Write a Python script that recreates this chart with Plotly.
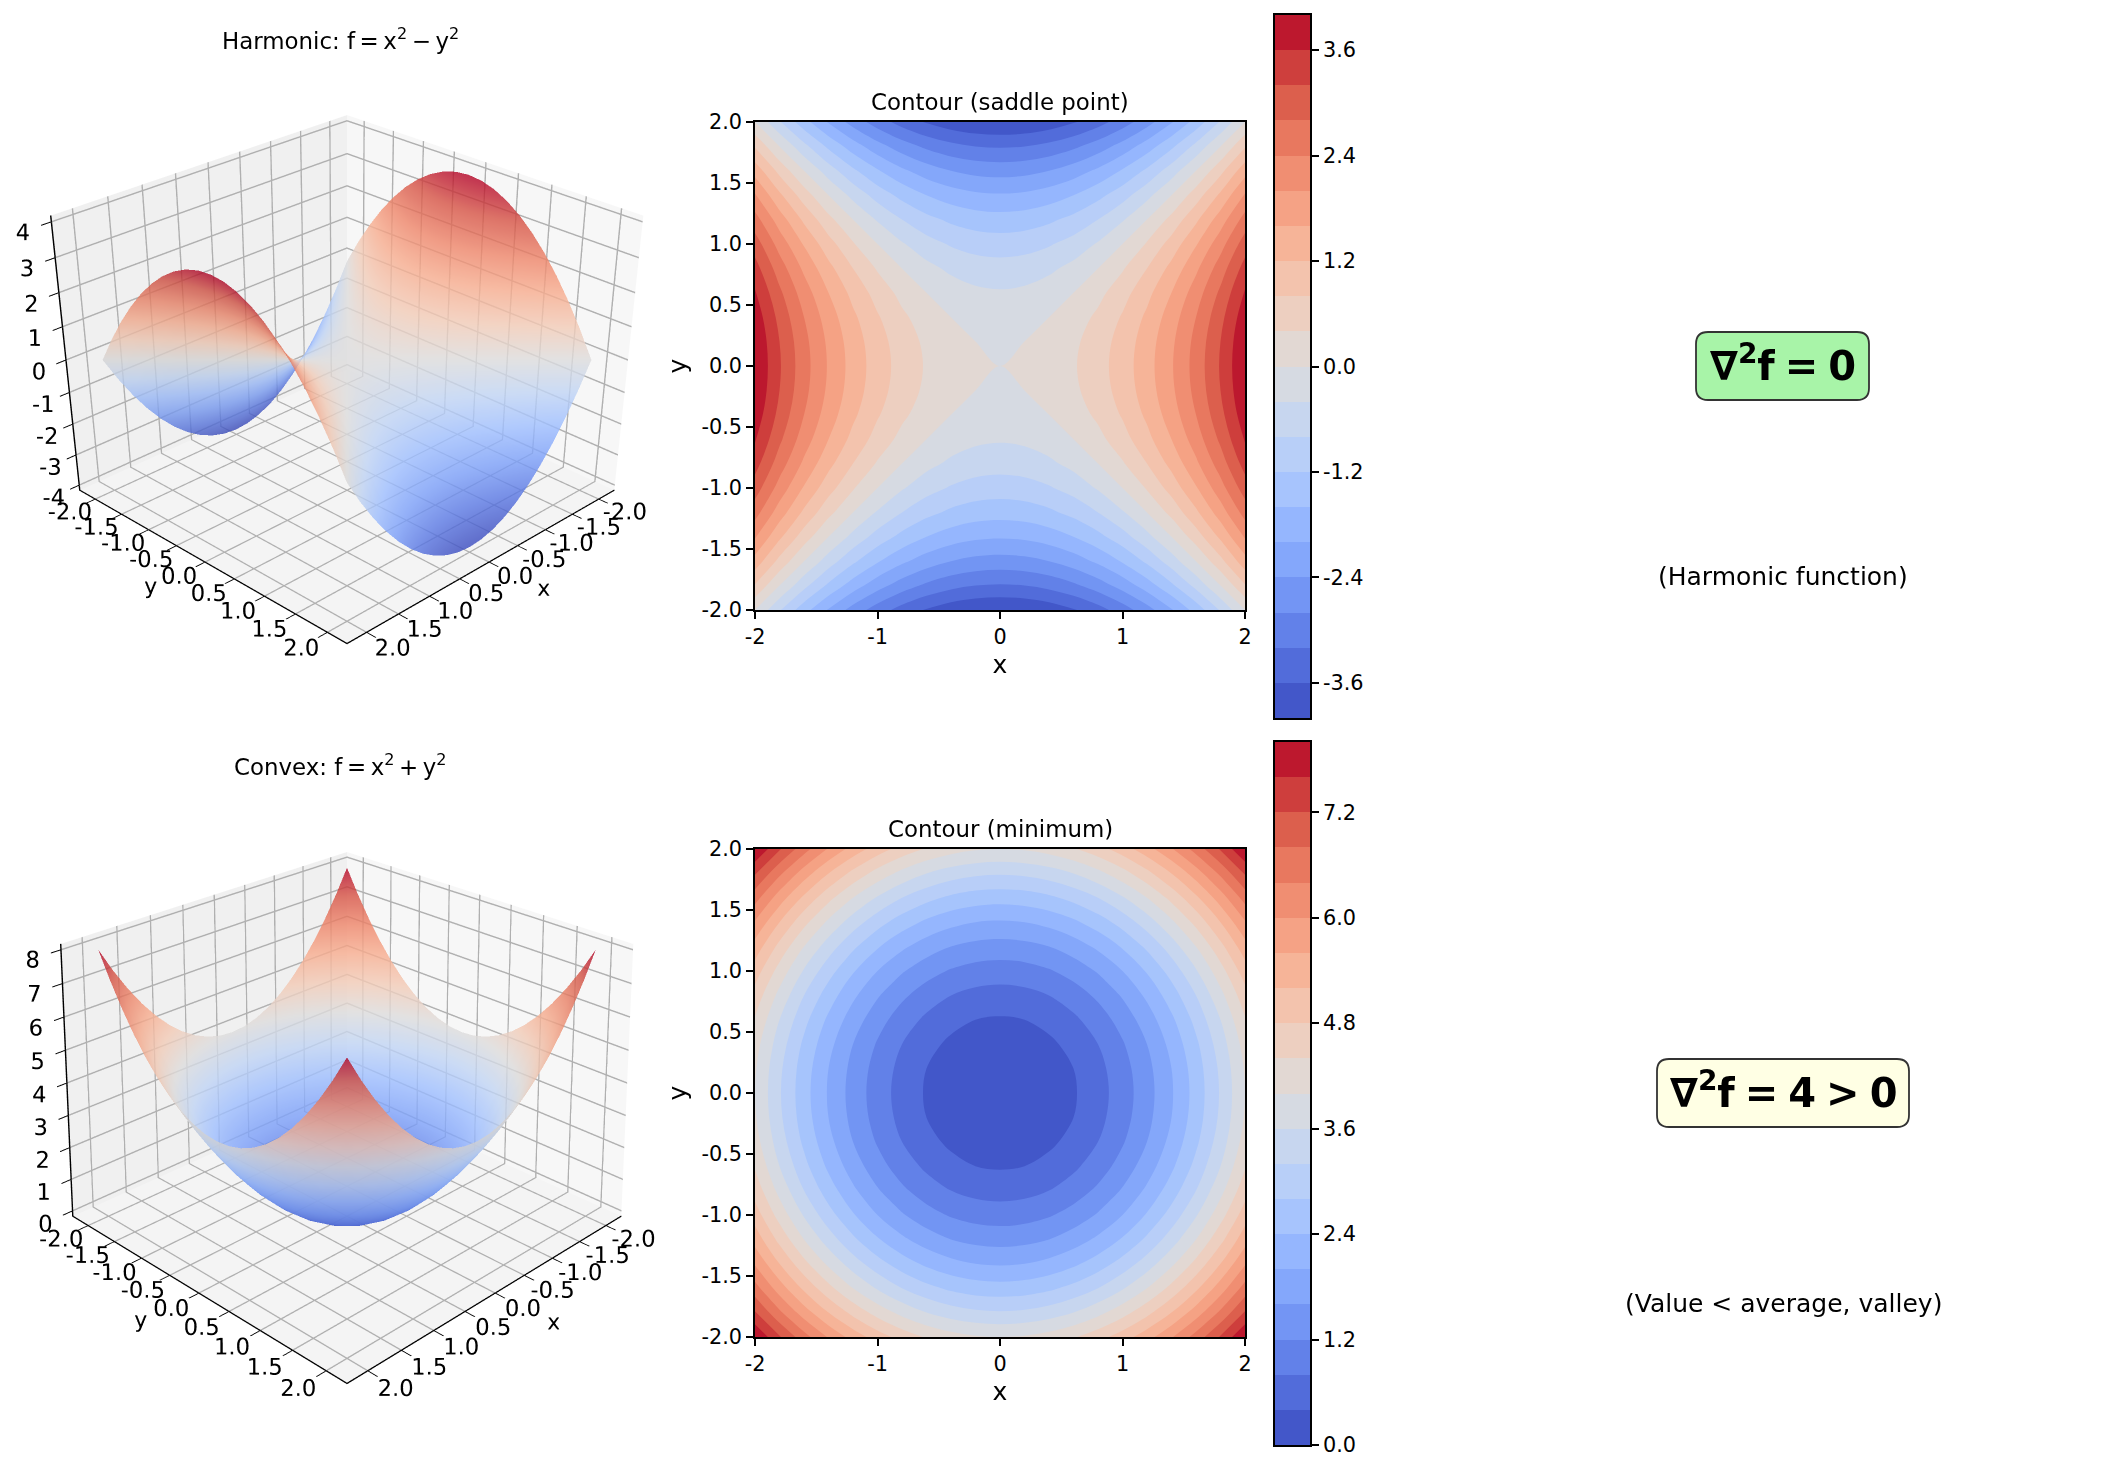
import math
import plotly.graph_objects as go
from plotly.colors import sample_colorscale

W = 2103
H = 1472

# grid
x = [-2.0, -1.8, -1.6, -1.4, -1.2, -1.0, -0.8, -0.6, -0.4, -0.2, 0.0, 0.2, 0.4, 0.6, 0.8, 1.0, 1.2, 1.4, 1.6, 1.8, 2.0]
y = [-2.0, -1.8, -1.6, -1.4, -1.2, -1.0, -0.8, -0.6, -0.4, -0.2, 0.0, 0.2, 0.4, 0.6, 0.8, 1.0, 1.2, 1.4, 1.6, 1.8, 2.0]

harmonic = [
    [0.00, -0.76, -1.44, -2.04, -2.56, -3.00, -3.36, -3.64, -3.84, -3.96, -4.00, -3.96, -3.84, -3.64, -3.36, -3.00, -2.56, -2.04, -1.44, -0.76, 0.00],
    [0.76, 0.00, -0.68, -1.28, -1.80, -2.24, -2.60, -2.88, -3.08, -3.20, -3.24, -3.20, -3.08, -2.88, -2.60, -2.24, -1.80, -1.28, -0.68, 0.00, 0.76],
    [1.44, 0.68, 0.00, -0.60, -1.12, -1.56, -1.92, -2.20, -2.40, -2.52, -2.56, -2.52, -2.40, -2.20, -1.92, -1.56, -1.12, -0.60, 0.00, 0.68, 1.44],
    [2.04, 1.28, 0.60, 0.00, -0.52, -0.96, -1.32, -1.60, -1.80, -1.92, -1.96, -1.92, -1.80, -1.60, -1.32, -0.96, -0.52, 0.00, 0.60, 1.28, 2.04],
    [2.56, 1.80, 1.12, 0.52, 0.00, -0.44, -0.80, -1.08, -1.28, -1.40, -1.44, -1.40, -1.28, -1.08, -0.80, -0.44, 0.00, 0.52, 1.12, 1.80, 2.56],
    [3.00, 2.24, 1.56, 0.96, 0.44, 0.00, -0.36, -0.64, -0.84, -0.96, -1.00, -0.96, -0.84, -0.64, -0.36, 0.00, 0.44, 0.96, 1.56, 2.24, 3.00],
    [3.36, 2.60, 1.92, 1.32, 0.80, 0.36, 0.00, -0.28, -0.48, -0.60, -0.64, -0.60, -0.48, -0.28, 0.00, 0.36, 0.80, 1.32, 1.92, 2.60, 3.36],
    [3.64, 2.88, 2.20, 1.60, 1.08, 0.64, 0.28, 0.00, -0.20, -0.32, -0.36, -0.32, -0.20, 0.00, 0.28, 0.64, 1.08, 1.60, 2.20, 2.88, 3.64],
    [3.84, 3.08, 2.40, 1.80, 1.28, 0.84, 0.48, 0.20, 0.00, -0.12, -0.16, -0.12, 0.00, 0.20, 0.48, 0.84, 1.28, 1.80, 2.40, 3.08, 3.84],
    [3.96, 3.20, 2.52, 1.92, 1.40, 0.96, 0.60, 0.32, 0.12, 0.00, -0.04, 0.00, 0.12, 0.32, 0.60, 0.96, 1.40, 1.92, 2.52, 3.20, 3.96],
    [4.00, 3.24, 2.56, 1.96, 1.44, 1.00, 0.64, 0.36, 0.16, 0.04, 0.00, 0.04, 0.16, 0.36, 0.64, 1.00, 1.44, 1.96, 2.56, 3.24, 4.00],
    [3.96, 3.20, 2.52, 1.92, 1.40, 0.96, 0.60, 0.32, 0.12, 0.00, -0.04, 0.00, 0.12, 0.32, 0.60, 0.96, 1.40, 1.92, 2.52, 3.20, 3.96],
    [3.84, 3.08, 2.40, 1.80, 1.28, 0.84, 0.48, 0.20, 0.00, -0.12, -0.16, -0.12, 0.00, 0.20, 0.48, 0.84, 1.28, 1.80, 2.40, 3.08, 3.84],
    [3.64, 2.88, 2.20, 1.60, 1.08, 0.64, 0.28, 0.00, -0.20, -0.32, -0.36, -0.32, -0.20, 0.00, 0.28, 0.64, 1.08, 1.60, 2.20, 2.88, 3.64],
    [3.36, 2.60, 1.92, 1.32, 0.80, 0.36, 0.00, -0.28, -0.48, -0.60, -0.64, -0.60, -0.48, -0.28, 0.00, 0.36, 0.80, 1.32, 1.92, 2.60, 3.36],
    [3.00, 2.24, 1.56, 0.96, 0.44, 0.00, -0.36, -0.64, -0.84, -0.96, -1.00, -0.96, -0.84, -0.64, -0.36, 0.00, 0.44, 0.96, 1.56, 2.24, 3.00],
    [2.56, 1.80, 1.12, 0.52, 0.00, -0.44, -0.80, -1.08, -1.28, -1.40, -1.44, -1.40, -1.28, -1.08, -0.80, -0.44, 0.00, 0.52, 1.12, 1.80, 2.56],
    [2.04, 1.28, 0.60, 0.00, -0.52, -0.96, -1.32, -1.60, -1.80, -1.92, -1.96, -1.92, -1.80, -1.60, -1.32, -0.96, -0.52, 0.00, 0.60, 1.28, 2.04],
    [1.44, 0.68, 0.00, -0.60, -1.12, -1.56, -1.92, -2.20, -2.40, -2.52, -2.56, -2.52, -2.40, -2.20, -1.92, -1.56, -1.12, -0.60, 0.00, 0.68, 1.44],
    [0.76, 0.00, -0.68, -1.28, -1.80, -2.24, -2.60, -2.88, -3.08, -3.20, -3.24, -3.20, -3.08, -2.88, -2.60, -2.24, -1.80, -1.28, -0.68, 0.00, 0.76],
    [0.00, -0.76, -1.44, -2.04, -2.56, -3.00, -3.36, -3.64, -3.84, -3.96, -4.00, -3.96, -3.84, -3.64, -3.36, -3.00, -2.56, -2.04, -1.44, -0.76, 0.00],
]

convex = [
    [8.00, 7.24, 6.56, 5.96, 5.44, 5.00, 4.64, 4.36, 4.16, 4.04, 4.00, 4.04, 4.16, 4.36, 4.64, 5.00, 5.44, 5.96, 6.56, 7.24, 8.00],
    [7.24, 6.48, 5.80, 5.20, 4.68, 4.24, 3.88, 3.60, 3.40, 3.28, 3.24, 3.28, 3.40, 3.60, 3.88, 4.24, 4.68, 5.20, 5.80, 6.48, 7.24],
    [6.56, 5.80, 5.12, 4.52, 4.00, 3.56, 3.20, 2.92, 2.72, 2.60, 2.56, 2.60, 2.72, 2.92, 3.20, 3.56, 4.00, 4.52, 5.12, 5.80, 6.56],
    [5.96, 5.20, 4.52, 3.92, 3.40, 2.96, 2.60, 2.32, 2.12, 2.00, 1.96, 2.00, 2.12, 2.32, 2.60, 2.96, 3.40, 3.92, 4.52, 5.20, 5.96],
    [5.44, 4.68, 4.00, 3.40, 2.88, 2.44, 2.08, 1.80, 1.60, 1.48, 1.44, 1.48, 1.60, 1.80, 2.08, 2.44, 2.88, 3.40, 4.00, 4.68, 5.44],
    [5.00, 4.24, 3.56, 2.96, 2.44, 2.00, 1.64, 1.36, 1.16, 1.04, 1.00, 1.04, 1.16, 1.36, 1.64, 2.00, 2.44, 2.96, 3.56, 4.24, 5.00],
    [4.64, 3.88, 3.20, 2.60, 2.08, 1.64, 1.28, 1.00, 0.80, 0.68, 0.64, 0.68, 0.80, 1.00, 1.28, 1.64, 2.08, 2.60, 3.20, 3.88, 4.64],
    [4.36, 3.60, 2.92, 2.32, 1.80, 1.36, 1.00, 0.72, 0.52, 0.40, 0.36, 0.40, 0.52, 0.72, 1.00, 1.36, 1.80, 2.32, 2.92, 3.60, 4.36],
    [4.16, 3.40, 2.72, 2.12, 1.60, 1.16, 0.80, 0.52, 0.32, 0.20, 0.16, 0.20, 0.32, 0.52, 0.80, 1.16, 1.60, 2.12, 2.72, 3.40, 4.16],
    [4.04, 3.28, 2.60, 2.00, 1.48, 1.04, 0.68, 0.40, 0.20, 0.08, 0.04, 0.08, 0.20, 0.40, 0.68, 1.04, 1.48, 2.00, 2.60, 3.28, 4.04],
    [4.00, 3.24, 2.56, 1.96, 1.44, 1.00, 0.64, 0.36, 0.16, 0.04, 0.00, 0.04, 0.16, 0.36, 0.64, 1.00, 1.44, 1.96, 2.56, 3.24, 4.00],
    [4.04, 3.28, 2.60, 2.00, 1.48, 1.04, 0.68, 0.40, 0.20, 0.08, 0.04, 0.08, 0.20, 0.40, 0.68, 1.04, 1.48, 2.00, 2.60, 3.28, 4.04],
    [4.16, 3.40, 2.72, 2.12, 1.60, 1.16, 0.80, 0.52, 0.32, 0.20, 0.16, 0.20, 0.32, 0.52, 0.80, 1.16, 1.60, 2.12, 2.72, 3.40, 4.16],
    [4.36, 3.60, 2.92, 2.32, 1.80, 1.36, 1.00, 0.72, 0.52, 0.40, 0.36, 0.40, 0.52, 0.72, 1.00, 1.36, 1.80, 2.32, 2.92, 3.60, 4.36],
    [4.64, 3.88, 3.20, 2.60, 2.08, 1.64, 1.28, 1.00, 0.80, 0.68, 0.64, 0.68, 0.80, 1.00, 1.28, 1.64, 2.08, 2.60, 3.20, 3.88, 4.64],
    [5.00, 4.24, 3.56, 2.96, 2.44, 2.00, 1.64, 1.36, 1.16, 1.04, 1.00, 1.04, 1.16, 1.36, 1.64, 2.00, 2.44, 2.96, 3.56, 4.24, 5.00],
    [5.44, 4.68, 4.00, 3.40, 2.88, 2.44, 2.08, 1.80, 1.60, 1.48, 1.44, 1.48, 1.60, 1.80, 2.08, 2.44, 2.88, 3.40, 4.00, 4.68, 5.44],
    [5.96, 5.20, 4.52, 3.92, 3.40, 2.96, 2.60, 2.32, 2.12, 2.00, 1.96, 2.00, 2.12, 2.32, 2.60, 2.96, 3.40, 3.92, 4.52, 5.20, 5.96],
    [6.56, 5.80, 5.12, 4.52, 4.00, 3.56, 3.20, 2.92, 2.72, 2.60, 2.56, 2.60, 2.72, 2.92, 3.20, 3.56, 4.00, 4.52, 5.12, 5.80, 6.56],
    [7.24, 6.48, 5.80, 5.20, 4.68, 4.24, 3.88, 3.60, 3.40, 3.28, 3.24, 3.28, 3.40, 3.60, 3.88, 4.24, 4.68, 5.20, 5.80, 6.48, 7.24],
    [8.00, 7.24, 6.56, 5.96, 5.44, 5.00, 4.64, 4.36, 4.16, 4.04, 4.00, 4.04, 4.16, 4.36, 4.64, 5.00, 5.44, 5.96, 6.56, 7.24, 8.00],
]

# middle level of each colour band in the colorbars
bands_top = [-3.8, -3.4, -3.0, -2.6, -2.2, -1.8, -1.4, -1.0, -0.6, -0.2, 0.2, 0.6, 1.0, 1.4, 1.8, 2.2, 2.6, 3.0, 3.4, 3.8]
bands_bot = [0.2, 0.6, 1.0, 1.4, 1.8, 2.2, 2.6, 3.0, 3.4, 3.8, 4.2, 4.6, 5.0, 5.4, 5.8, 6.2, 6.6, 7.0, 7.4, 7.8]

# tick labels (plain hyphens like the original)
ticks_3d = [-2.0, -1.5, -1.0, -0.5, 0.0, 0.5, 1.0, 1.5, 2.0]
ticks_3d_text = ["-2.0", "-1.5", "-1.0", "-0.5", "0.0", "0.5", "1.0", "1.5", "2.0"]
ticks_x = [-2, -1, 0, 1, 2]
ticks_x_text = ["-2", "-1", "0", "1", "2"]
z_ticks_top = [-4, -3, -2, -1, 0, 1, 2, 3, 4]
z_ticks_top_text = ["-4", "-3", "-2", "-1", "0", "1", "2", "3", "4"]
z_ticks_bot = [0, 1, 2, 3, 4, 5, 6, 7, 8]
z_ticks_bot_text = ["0", "1", "2", "3", "4", "5", "6", "7", "8"]
cb_ticks_top = [-3.6, -2.4, -1.2, 0.0, 1.2, 2.4, 3.6]
cb_ticks_top_text = ["-3.6", "-2.4", "-1.2", "0.0", "1.2", "2.4", "3.6"]
cb_ticks_bot = [0.0, 1.2, 2.4, 3.6, 4.8, 6.0, 7.2]
cb_ticks_bot_text = ["0.0", "1.2", "2.4", "3.6", "4.8", "6.0", "7.2"]

coolwarm = ["#3b4cc0", "#5977e3", "#7b9ff9", "#9ebeff", "#c0d4f5", "#dddcdc",
            "#f2cbb7", "#f7ac8e", "#ee8468", "#d65244", "#b40426"]
cw_scale = [[i / 10, c] for i, c in enumerate(coolwarm)]

FONT = "DejaVu Sans"
TICK = 20.8
TICK3D = 16.5
TITLE3D = 22
LABEL = 25
TITLE = 22.9

# eye distance, gives the same weak perspective as the original
EYE = 4.57
ELEV = math.radians(26)


def px(v):
    return v / W


def py(v):
    return 1 - v / H


def band_scale(n=20):
    stops = [[0, sample_colorscale(cw_scale, [0.5 / n])[0]]]
    for i in range(n):
        stops.append([(i + 1) / (n + 1), sample_colorscale(cw_scale, [(i + 0.5) / n])[0]])
    stops.append([1, sample_colorscale(cw_scale, [(n - 0.5) / n])[0]])
    return stops


def scene_axis(title, vals, text, bg, lim):
    return dict(
        title=dict(text=title, font=dict(size=TITLE3D, family=FONT, color="black")),
        range=lim, tickmode="array", tickvals=vals, ticktext=text, tickangle=0,
        tickfont=dict(size=TICK3D, family=FONT, color="black"),
        showgrid=True, gridcolor="#b0b0b0", gridwidth=3,
        showline=True, linecolor="black", linewidth=3,
        ticks="outside", ticklen=10, tickcolor="black", tickwidth=2,
        showbackground=True, backgroundcolor=bg, zeroline=False, showspikes=False,
    )


# both scenes use the full page height, so the view is tilted to put the box
# at its place instead of being centred
def camera(shift):
    a = math.atan(shift / (H / 2 / math.tan(math.pi / 8)))
    c45 = math.cos(math.pi / 4)
    f = (-math.cos(ELEV) * c45, -math.cos(ELEV) * c45, -math.sin(ELEV))
    u = (-math.sin(ELEV) * c45, -math.sin(ELEV) * c45, math.cos(ELEV))
    eye = [-c * EYE for c in f]
    look = [math.cos(a) * f[i] - math.sin(a) * u[i] for i in range(3)]
    cen = [eye[i] + EYE * look[i] for i in range(3)]
    return dict(eye=dict(x=eye[0], y=eye[1], z=eye[2]), center=dict(x=cen[0], y=cen[1], z=cen[2]),
                up=dict(x=0, y=0, z=1), projection=dict(type="perspective"))


def make_scene(shift, zlim, zvals, ztext):
    return dict(
        domain=dict(x=[0, px(694)], y=[0, 1]),
        xaxis=scene_axis("x", ticks_3d, ticks_3d_text, "#f7f7f7", [-2.3, 2.3]),
        yaxis=scene_axis("y", ticks_3d, ticks_3d_text, "#f0f0f0", [-2.3, 2.3]),
        zaxis=scene_axis("", zvals, ztext, "#f4f4f4", zlim),
        aspectmode="manual", aspectratio=dict(x=1, y=1, z=0.75),
        camera=camera(shift),
    )


def surface(z, scene, lo, hi):
    return go.Surface(x=x, y=y, z=z, scene=scene, colorscale=cw_scale, cmin=lo, cmax=hi,
                      showscale=False, opacity=0.8,
                      lighting=dict(ambient=0.95, diffuse=0.1, specular=0, roughness=1),
                      lightposition=dict(x=-1000, y=1000, z=3000))


def contour(z, xa, ya, lo, hi):
    return go.Contour(
        x=x, y=y, z=z, xaxis=xa, yaxis=ya, colorscale=band_scale(), autocontour=False,
        contours=dict(start=lo, end=hi, size=0.4, coloring="fill", showlines=False),
        line=dict(width=0, smoothing=1), showscale=False,
    )


# the colorbars are small heatmaps with their own axes
def bar(bands, xa, ya, lo, hi):
    return go.Heatmap(x=[0], y=bands, z=[[b] for b in bands], xaxis=xa, yaxis=ya,
                      colorscale=cw_scale, zmin=lo, zmax=hi, showscale=False)


def axis2d(title, domain, anchor, vals, text, standoff):
    return dict(
        domain=domain, anchor=anchor, range=[-2, 2],
        title=dict(text=title, font=dict(size=LABEL, family=FONT, color="black"), standoff=standoff),
        tickmode="array", tickvals=vals, ticktext=text, ticks="outside", ticklen=7,
        tickcolor="black", tickwidth=1.5, tickfont=dict(size=TICK, family=FONT, color="black"),
        showline=True, mirror=True, linecolor="black", linewidth=1.5,
        showgrid=False, zeroline=False, automargin=False,
    )


def bar_xaxis(anchor):
    return dict(domain=[px(1275), px(1310)], anchor=anchor, range=[-0.5, 0.5], showticklabels=False,
                ticks="", showline=True, mirror=True, linecolor="black", linewidth=1.5,
                showgrid=False, zeroline=False)


def bar_yaxis(domain, anchor, lim, vals, text):
    return dict(domain=domain, anchor=anchor, side="right", range=lim, tickmode="array",
                tickvals=vals, ticktext=text, ticks="outside", ticklen=7, tickcolor="black",
                tickwidth=1.5, tickfont=dict(size=TICK, family=FONT, color="black"),
                showline=True, mirror=True, linecolor="black", linewidth=1.5,
                showgrid=False, zeroline=False, automargin=False)


def text_note(txt, cx, cy, size):
    return dict(text=txt, x=px(cx), y=py(cy), xref="paper", yref="paper", showarrow=False,
                xanchor="center", yanchor="middle",
                font=dict(size=size, family=FONT, color="black"))


def round_box(x0, y0, x1, y1, fill, r=12):
    a, b, c, d = px(x0), py(y0), px(x1), py(y1)
    rx, ry = r / W, r / H
    path = (f"M {a + rx},{b} L {c - rx},{b} Q {c},{b} {c},{b - ry} "
            f"L {c},{d + ry} Q {c},{d} {c - rx},{d} L {a + rx},{d} "
            f"Q {a},{d} {a},{d + ry} L {a},{b - ry} Q {a},{b} {a + rx},{b} Z")
    return dict(type="path", path=path, xref="paper", yref="paper", fillcolor=fill,
                line=dict(color="#333333", width=1.8), layer="below")


fig = go.Figure()
fig.add_trace(surface(harmonic, "scene", -4, 4))
fig.add_trace(contour(harmonic, "x", "y", -4, 4))
fig.add_trace(bar(bands_top, "x3", "y3", -4, 4))
fig.add_trace(surface(convex, "scene2", 0, 8))
fig.add_trace(contour(convex, "x2", "y2", 0, 8))
fig.add_trace(bar(bands_bot, "x4", "y4", 0, 8))

fig.update_layout(
    width=W, height=H, margin=dict(l=0, r=0, t=0, b=0, autoexpand=False), showlegend=False,
    paper_bgcolor="white", plot_bgcolor="white",
    font=dict(family=FONT, color="black"),
    scene=make_scene(376, [-4.17, 4.17], z_ticks_top, z_ticks_top_text),
    scene2=make_scene(-347, [-0.17, 8.17], z_ticks_bot, z_ticks_bot_text),
    xaxis=axis2d("x", [px(755), px(1245)], "y", ticks_x, ticks_x_text, 8),
    yaxis=axis2d("y", [py(610), py(122)], "x", ticks_3d, ticks_3d_text, 8),
    xaxis2=axis2d("x", [px(755), px(1245)], "y2", ticks_x, ticks_x_text, 8),
    yaxis2=axis2d("y", [py(1337), py(849)], "x2", ticks_3d, ticks_3d_text, 8),
    xaxis3=bar_xaxis("y3"),
    yaxis3=bar_yaxis([py(718), py(15)], "x3", [-4, 4], cb_ticks_top, cb_ticks_top_text),
    xaxis4=bar_xaxis("y4"),
    yaxis4=bar_yaxis([py(1445), py(742)], "x4", [0, 8], cb_ticks_bot, cb_ticks_bot_text),
    shapes=[round_box(1696, 332, 1869, 400, "#a8f4a8"),
            round_box(1657, 1059, 1909, 1127, "#ffffe4")],
    annotations=[
        text_note("Harmonic: f\u2009=\u2009x<sup>2</sup>\u2009−\u2009y<sup>2</sup>", 340, 39, TITLE),
        text_note("Convex: f\u2009=\u2009x<sup>2</sup>\u2009+\u2009y<sup>2</sup>", 340, 765, TITLE),
        text_note("Contour (saddle point)", 1000, 102, TITLE),
        text_note("Contour (minimum)", 1000, 829, TITLE),
        text_note("<b>∇<sup>2</sup>f\u2005=\u20050</b>", 1783, 363, 40),
        text_note("<b>∇<sup>2</sup>f\u2005=\u20054\u2005>\u20050</b>", 1783, 1090, 40),
        text_note("(Harmonic function)", 1783, 577, 25),
        text_note("(Value < average, valley)", 1783, 1303, 25),
    ],
)

fig.write_html("out.html", config={"displayModeBar": False}, post_script="document.body.style.margin='0';")
